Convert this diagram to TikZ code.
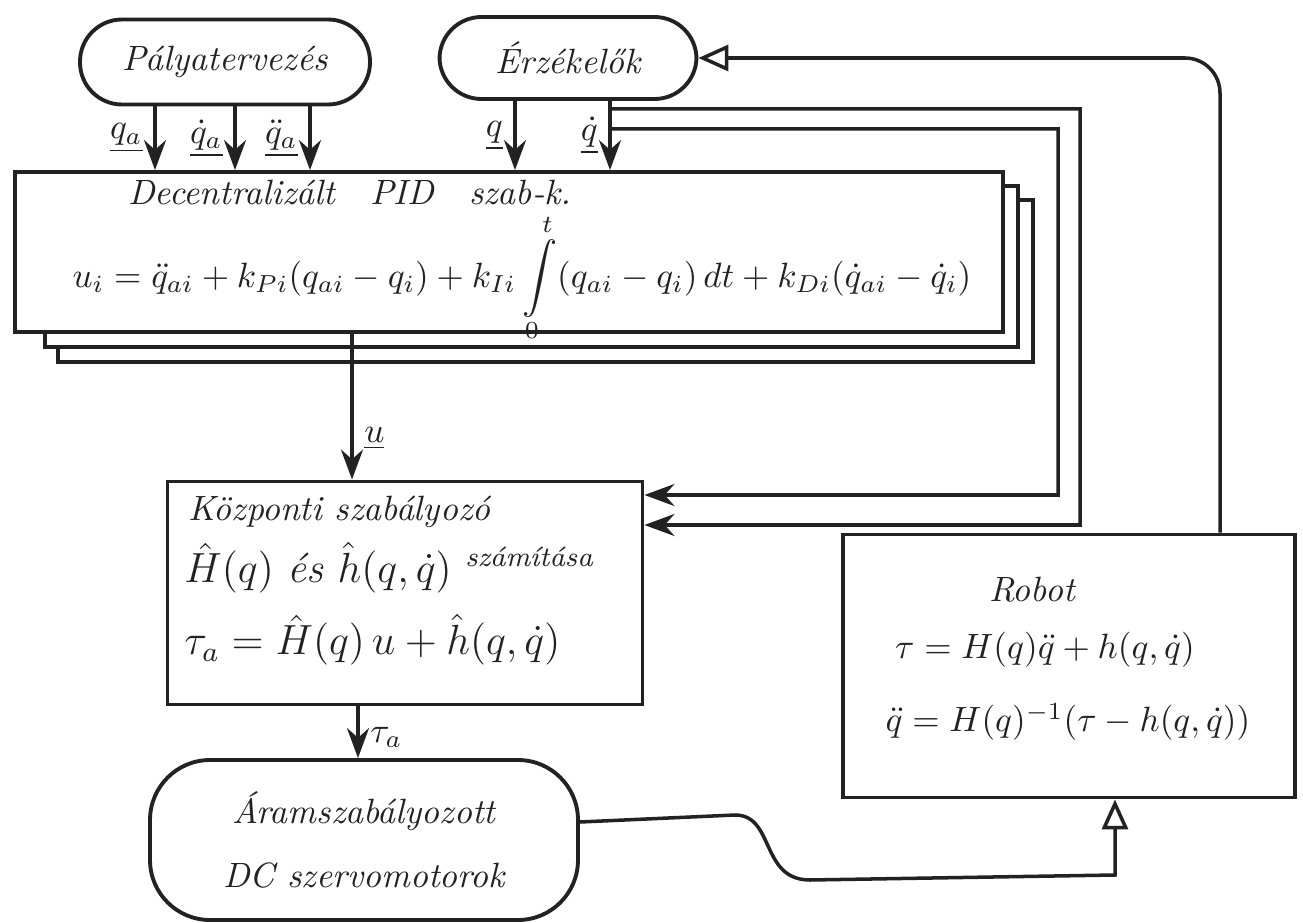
\documentclass[tikz,border=0pt]{standalone}
\usepackage{amsmath,amssymb}
\usepackage{xcolor}
\usepackage{tikz}
\usetikzlibrary{arrows.meta,calc,positioning}
\definecolor{InkGray}{HTML}{222222}

\tikzset{
  block/.style={draw=InkGray,line width=1.1pt,fill=white},
  pill/.style={block,rounded corners=0.42cm},
  flow/.style={->,draw=InkGray,line width=1pt},
  loopback/.style={-{Triangle[open,length=3mm,width=2.6mm]},draw=InkGray,line width=1pt},
  lbl/.style={inner sep=3pt,text=InkGray}
}

\begin{document}
\begin{tikzpicture}[x=0.1mm,y=-0.1mm,font=\normalsize,text=InkGray,
    >={Stealth[length=3mm,width=2.2mm]}]
    \useasboundingbox (0,0) rectangle (1303,923);

    % Trajectory planner and sensors.
    \node[pill,minimum width=2.9cm,minimum height=0.85cm] (plan) at (225,62)
      {\itshape Pályatervezés};
    \node[pill,minimum width=2.57cm,minimum height=0.82cm] (sensor) at (568,58)
      {\itshape Érzékelők};

    % Decentralized PID stack, one sheet per joint.
    \draw[block] (58,200) rectangle (1033,362);
    \draw[block] (45,186) rectangle (1018,347);
    \node[block,minimum width=9.88cm,minimum height=1.6cm] (pid) at (509,252) {};
    \node[font=\itshape] (pidtitle) at (350,192)
      {Decentralizált\quad PID\quad szab-k.};
    \node (pideq) at (522,278)
      {$u_i=\ddot q_{ai}+k_{Pi}(q_{ai}-q_i)+k_{Ii}\displaystyle\int\limits_0^t(q_{ai}-q_i)\,dt
        +k_{Di}(\dot q_{ai}-\dot q_i)$};

    % Central controller.
    \node[block,minimum width=4.75cm,minimum height=2.23cm] (central) at (405,593) {};
    \node[anchor=west,font=\itshape] (ctitle) at (176,512) {Központi szabályozó};
    \node[anchor=west,font=\large] (cest) at (172,568)
      {$\hat H(q)$ \textit{és} $\hat h(q,\dot q)$ \raisebox{0.9ex}{\footnotesize\itshape számítása}};
    \node[anchor=west,font=\large] (claw) at (172,640)
      {$\tau_a=\hat H(q)\,u+\hat h(q,\dot q)$};

    % Motors and robot.
    \node[pill,rounded corners=0.6cm,minimum width=4.28cm,minimum height=1.6cm,
      align=center,font=\itshape] (motor) at (364,840)
      {Áramszabályozott\\[6pt]DC szervomotorok};
    \node[block,minimum width=4.52cm,minimum height=2.63cm] (robot) at (1069,666) {};
    \node[font=\itshape] (rtitle) at (1032,590) {Robot};
    \node (req1) at (1045,650) {$\tau=H(q)\ddot q+h(q,\dot q)$};
    \node (req2) at (1068,722) {$\ddot q=H(q)^{-1}(\tau-h(q,\dot q))$};

    % Reference signals into the PID stack.
    \foreach \dx/\sig in {-0.7/q_a,0.1/\dot q_a,0.85/\ddot q_a}
      \draw[flow] ([xshift=\dx cm]plan.south) -- node[left,lbl] {$\underline{\sig}$}
        ([xshift=\dx cm]plan.south |- pid.north);

    % Measured signals.
    \foreach \dx/\sig in {-0.53/q,0.42/\dot q}
      \draw[flow] ([xshift=\dx cm]sensor.south) -- node[left,lbl] {$\underline{\sig}$}
        ([xshift=\dx cm]sensor.south |- pid.north);

    % Measurements also go to the central controller.
    \coordinate (tapA) at ([xshift=0.42cm,yshift=-0.08cm]sensor.south);
    \coordinate (tapB) at ([xshift=0.42cm,yshift=-0.28cm]sensor.south);
    \draw[flow] (tapA) -| (1080,525) -- ([yshift=0.68cm]central.east);
    \draw[flow] (tapB) -| (1058,495) -- ([yshift=0.98cm]central.east);

    % Control chain.
    \draw[flow] ([xshift=-1.57cm]pid.south) -- node[right,lbl,pos=0.72] {$\underline{u}$}
      ([xshift=-1.57cm]pid.south |- central.north);
    \draw[flow] ([xshift=-0.47cm]central.south) -- node[right,lbl,pos=0.6] {$\tau_a$}
      ([xshift=-0.47cm]central.south |- motor.north);

    % Motor torque drives the robot.
    \draw[loopback] ([yshift=0.18cm]motor.east) -- (735,815)
      .. controls (775,815) and (760,880) .. (810,880) -- (1115,875)
      -- ([xshift=0.46cm]robot.south);

    % Robot state back to the sensors.
    \draw[loopback,rounded corners=0.35cm] ([xshift=1.51cm]robot.north) |- (sensor.east);
  \end{tikzpicture}
\end{document}
